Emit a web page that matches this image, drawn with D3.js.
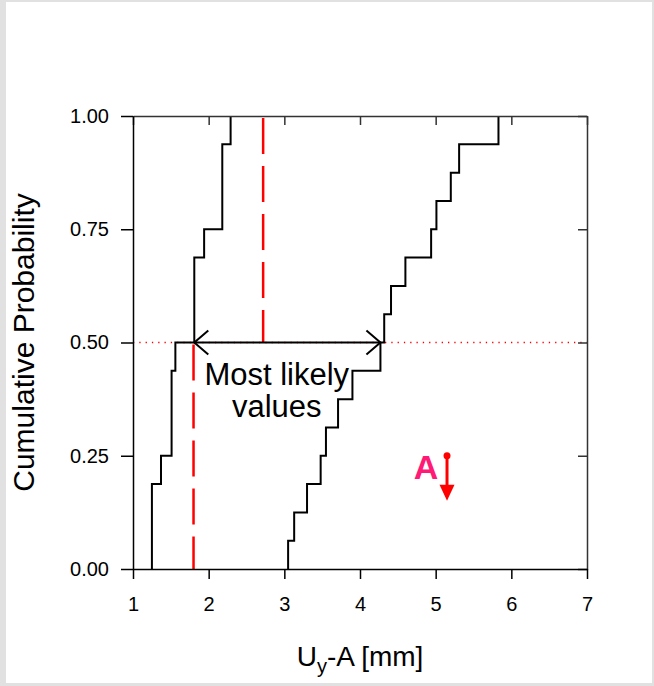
<!DOCTYPE html>
<html>
<head>
<meta charset="utf-8">
<script src="https://cdn.jsdelivr.net/npm/d3@7"></script>
<style>
  html, body { margin: 0; padding: 0; background: #e1e1e1; }
  svg { display: block; }
  .axis text { font-family: "Liberation Sans", Arial, sans-serif; font-size: 20px; fill: #000; }
  .axis line, .axis path { stroke: #000; stroke-width: 1.5px; }
  .frame line, .frame path { stroke: #333; stroke-width: 1.5px; }
</style>
</head>
<body>
<div id="chart"></div>
<script>
// sorted samples for the two empirical CDFs
const leftSample = [1.25, 1.25, 1.25, 1.37, 1.51, 1.51, 1.51, 1.56,
                    1.81, 1.81, 1.81, 1.94, 2.18, 2.18, 2.18, 2.29];
const rightSample = [3.05, 3.13, 3.30, 3.48, 3.55, 3.71, 3.90, 4.27,
                     4.32, 4.41, 4.60, 4.94, 5.01, 5.20, 5.31, 5.83];

const xTicks = [1, 2, 3, 4, 5, 6, 7];
const yTicks = [0, 0.25, 0.5, 0.75, 1];

// red dashed reference lines
const refLines = [
  { x: 1.8, p0: 0, p1: 0.5 },
  { x: 2.72, p0: 0.5, p1: 1 }
];
const arrowRange = [1.81, 4.27];
const arrowLevel = 0.5;
const markerA = { x: 5.15, p: 0.25, label: "A" };
const noteLines = ["Most likely", "values"];
const noteAt = { x: 2.9, p: 0.406 };

const W = 654, H = 686;
const margin = { top: 116, right: 67, bottom: 117, left: 133 };
const width = W - margin.left - margin.right;
const height = H - margin.top - margin.bottom;
const font = '"Liberation Sans", Arial, sans-serif';

const x = d3.scaleLinear().domain([1, 7]).range([0, width]);
const y = d3.scaleLinear().domain([0, 1]).range([height, 0]);

const root = d3.select("#chart").append("svg")
  .attr("width", W)
  .attr("height", H);

root.append("rect")
  .attr("x", 6).attr("y", 2)
  .attr("width", 646).attr("height", 681)
  .attr("fill", "#fff");

const svg = root.append("g")
  .attr("transform", "translate(" + margin.left + "," + margin.top + ")");

// ECDF points: start at (x0, 0), then (x_i, (i+1)/n)
function ecdf(sample) {
  const n = sample.length;
  const pts = [[sample[0], 0]];
  sample.forEach(function(v, i) { pts.push([v, (i + 1) / n]); });
  return pts;
}

const stepLine = d3.line()
  .x(function(d) { return x(d[0]); })
  .y(function(d) { return y(d[1]); })
  .curve(d3.curveStepAfter);

// horizontal dotted line at p = 0.5
svg.append("line")
  .attr("x1", 0).attr("x2", width)
  .attr("y1", y(arrowLevel)).attr("y2", y(arrowLevel))
  .attr("stroke", "#f00")
  .attr("stroke-width", 1.3)
  .attr("stroke-dasharray", "1.3,5");

// red dashed verticals
svg.selectAll(".ref")
  .data(refLines)
  .enter()
  .append("line")
  .attr("class", "ref")
  .attr("x1", function(d) { return x(d.x); })
  .attr("x2", function(d) { return x(d.x); })
  .attr("y1", function(d) { return y(d.p1) + 2; })
  .attr("y2", function(d) { return y(d.p0); })
  .attr("stroke", "#f00")
  .attr("stroke-width", 2.5)
  .attr("stroke-dasharray", "36,12");

// step curves
svg.selectAll(".cdf")
  .data([leftSample, rightSample])
  .enter()
  .append("path")
  .attr("class", "cdf")
  .attr("d", function(d) { return stepLine(ecdf(d)); })
  .attr("fill", "none")
  .attr("stroke", "#000")
  .attr("stroke-width", 2);

// double arrow between the two medians
const ay = y(arrowLevel);
const ax0 = x(arrowRange[0]), ax1 = x(arrowRange[1]);
svg.append("line")
  .attr("x1", ax0).attr("x2", ax1)
  .attr("y1", ay).attr("y2", ay)
  .attr("stroke", "#000").attr("stroke-width", 2);
svg.append("path")
  .attr("d", "M" + (ax0 + 14) + "," + (ay - 12) + "L" + ax0 + "," + ay + "L" + (ax0 + 14) + "," + (ay + 12) +
             "M" + (ax1 - 14) + "," + (ay - 12) + "L" + ax1 + "," + ay + "L" + (ax1 - 14) + "," + (ay + 12))
  .attr("fill", "none")
  .attr("stroke", "#000")
  .attr("stroke-width", 2);

// note text
svg.append("text")
  .attr("text-anchor", "middle")
  .style("font-family", font)
  .style("font-size", "31px")
  .selectAll("tspan")
  .data(noteLines)
  .enter()
  .append("tspan")
  .attr("x", x(noteAt.x))
  .attr("y", function(d, i) { return y(noteAt.p) + i * 32; })
  .text(function(d) { return d; });

// marker A with red arrow
const mx = x(markerA.x), my = y(markerA.p);
svg.append("text")
  .attr("x", mx - 21)
  .attr("y", my + 23)
  .attr("text-anchor", "middle")
  .style("font-family", font)
  .style("font-size", "34px")
  .style("font-weight", "bold")
  .attr("fill", "#ff1a75")
  .text(markerA.label);
svg.append("circle")
  .attr("cx", mx).attr("cy", my).attr("r", 3.5)
  .attr("fill", "#f00");
svg.append("line")
  .attr("x1", mx).attr("x2", mx)
  .attr("y1", my).attr("y2", my + 31)
  .attr("stroke", "#f00").attr("stroke-width", 3);
svg.append("path")
  .attr("d", "M" + (mx - 7.5) + "," + (my + 29) + "L" + (mx + 7.5) + "," + (my + 29) + "L" + mx + "," + (my + 45) + "Z")
  .attr("fill", "#f00");

// top and right frame with inward ticks
svg.append("g")
  .attr("class", "frame")
  .call(d3.axisTop(x).tickValues(xTicks).tickSize(-9).tickSizeOuter(0).tickFormat(""));
svg.append("g")
  .attr("class", "frame")
  .attr("transform", "translate(" + width + ",0)")
  .call(d3.axisRight(y).tickValues(yTicks).tickSize(-9).tickSizeOuter(0).tickFormat(""));

// bottom and left axes
svg.append("g")
  .attr("class", "axis")
  .attr("transform", "translate(0," + height + ")")
  .call(d3.axisBottom(x).tickValues(xTicks).tickSize(10).tickSizeOuter(0).tickPadding(18).tickFormat(d3.format("d")));
svg.append("g")
  .attr("class", "axis")
  .call(d3.axisLeft(y).tickValues(yTicks).tickSize(12).tickSizeOuter(0).tickPadding(12).tickFormat(d3.format(".2f")));

// axis titles
svg.append("text")
  .attr("transform", "translate(" + (34 - margin.left) + "," + (height / 2) + ") rotate(-90)")
  .attr("text-anchor", "middle")
  .style("font-family", font)
  .style("font-size", "30px")
  .text("Cumulative Probability");

const xt = svg.append("text")
  .attr("x", width / 2)
  .attr("y", 666 - margin.top)
  .attr("text-anchor", "middle")
  .style("font-family", font)
  .style("font-size", "28px");
xt.append("tspan").text("U");
xt.append("tspan").attr("dy", 7).style("font-size", "20px").text("y");
xt.append("tspan").attr("dy", -7).text("-A [mm]");
</script>
</body>
</html>
